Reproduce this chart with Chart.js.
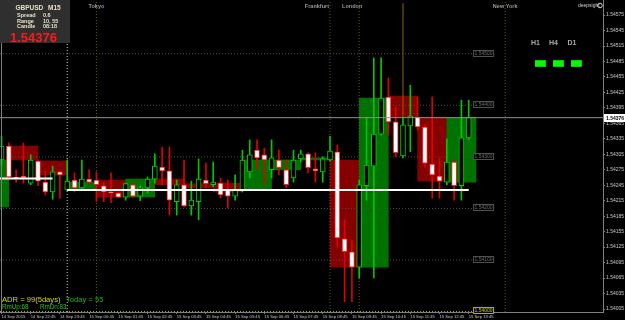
<!DOCTYPE html>
<html>
<head>
<meta charset="utf-8">
<script src="https://cdn.jsdelivr.net/npm/chart.js@4.4.0/dist/chart.umd.min.js"></script>
<style>
  html, body { margin: 0; padding: 0; background: #000; }
  #wrap { width: 625px; height: 320px; }
</style>
</head>
<body>
<div id="wrap"><canvas id="chart" width="625" height="320"></canvas></div>
<script>
// GBPUSD M15 candles, bar 0 = 14 Sep 21:45 (server time)
const opens = [1.54294, 1.54321, 1.54261, 1.54263, 1.54249, 1.54292, 1.54251, 1.54232, 1.54271, 1.54236,
  1.54255, 1.54240, 1.54257, 1.54255, 1.54244, 1.54232, 1.54230, 1.54222, 1.54246, 1.54224,
  1.54240, 1.54257, 1.54280, 1.54273, 1.54213, 1.54246, 1.54205, 1.54213, 1.54255, 1.54246,
  1.54249, 1.54236, 1.54224, 1.54236, 1.54271, 1.54313, 1.54304, 1.54275, 1.54294, 1.54275,
  1.54259, 1.54296, 1.54306, 1.54277, 1.54271, 1.54294, 1.54310, 1.54141, 1.54116, 1.54086,
  1.54244, 1.54282, 1.54344, 1.54416, 1.54368, 1.54302, 1.54360, 1.54377, 1.54358, 1.54286,
  1.54263, 1.54251, 1.54290, 1.54244, 1.54337];
const highs = [1.54340, 1.54327, 1.54275, 1.54327, 1.54304, 1.54294, 1.54271, 1.54282, 1.54273, 1.54294,
  1.54269, 1.54294, 1.54275, 1.54271, 1.54251, 1.54269, 1.54232, 1.54249, 1.54249, 1.54244,
  1.54261, 1.54306, 1.54319, 1.54319, 1.54255, 1.54294, 1.54253, 1.54296, 1.54288, 1.54290,
  1.54259, 1.54255, 1.54265, 1.54313, 1.54333, 1.54333, 1.54317, 1.54333, 1.54313, 1.54294,
  1.54313, 1.54313, 1.54308, 1.54308, 1.54300, 1.54340, 1.54323, 1.54178, 1.54139, 1.54255,
  1.54377, 1.54492, 1.54492, 1.54453, 1.54397, 1.54375, 1.54439, 1.54416, 1.54362, 1.54416,
  1.54298, 1.54335, 1.54294, 1.54410, 1.54410];
const lows = [1.54284, 1.54255, 1.54251, 1.54249, 1.54246, 1.54244, 1.54226, 1.54218, 1.54220, 1.54234,
  1.54232, 1.54238, 1.54249, 1.54213, 1.54213, 1.54211, 1.54220, 1.54216, 1.54222, 1.54215,
  1.54230, 1.54249, 1.54246, 1.54187, 1.54187, 1.54203, 1.54187, 1.54178, 1.54240, 1.54242,
  1.54220, 1.54201, 1.54216, 1.54232, 1.54259, 1.54275, 1.54246, 1.54259, 1.54265, 1.54240,
  1.54251, 1.54290, 1.54269, 1.54251, 1.54251, 1.54292, 1.54125, 1.54019, 1.54019, 1.54065,
  1.54216, 1.54065, 1.54342, 1.54342, 1.54300, 1.54298, 1.54310, 1.54352, 1.54280, 1.54220,
  1.54220, 1.54246, 1.54216, 1.54216, 1.54333];
const closes = [1.54321, 1.54261, 1.54259, 1.54259, 1.54294, 1.54253, 1.54232, 1.54271, 1.54265, 1.54253,
  1.54240, 1.54257, 1.54251, 1.54246, 1.54232, 1.54230, 1.54222, 1.54248, 1.54224, 1.54240,
  1.54257, 1.54282, 1.54273, 1.54216, 1.54246, 1.54205, 1.54216, 1.54257, 1.54248, 1.54251,
  1.54226, 1.54224, 1.54236, 1.54294, 1.54304, 1.54298, 1.54294, 1.54298, 1.54279, 1.54246,
  1.54294, 1.54306, 1.54279, 1.54273, 1.54296, 1.54311, 1.54143, 1.54116, 1.54086, 1.54246,
  1.54284, 1.54344, 1.54414, 1.54368, 1.54308, 1.54362, 1.54379, 1.54358, 1.54288, 1.54265,
  1.54253, 1.54290, 1.54244, 1.54337, 1.54376];

// H1 candle bodies drawn behind (first M15 bar of each hour)
const hourStarts = [-3, 1, 5, 9, 13, 17, 21, 25, 29, 33, 37, 41, 45, 49, 53, 57, 61];
const hourOpens = [1.54203, 1.54321, 1.54292, 1.54236, 1.54255, 1.54222, 1.54257, 1.54248, 1.54249,
  1.54236, 1.54275, 1.54294, 1.54294, 1.54086, 1.54418, 1.54377, 1.54251];
const hourCloses = [1.54294, 1.54294, 1.54265, 1.54251, 1.54222, 1.54257, 1.54246, 1.54240, 1.54232,
  1.54294, 1.54294, 1.54298, 1.54086, 1.54414, 1.54377, 1.54253, 1.54376];

// axes
const timeTickBars = [0, 4, 8, 12, 16, 20, 24, 28, 32, 36, 40, 44, 48, 52, 56, 60, 64];
const timeLabels = ['14 Sep 2015', '14 Sep 22:45', '14 Sep 23:45', '15 Sep 00:45', '15 Sep 01:45',
  '15 Sep 02:45', '15 Sep 03:45', '15 Sep 04:45', '15 Sep 05:45', '15 Sep 06:45', '15 Sep 07:45',
  '15 Sep 08:45', '15 Sep 09:45', '15 Sep 10:45', '15 Sep 11:45', '15 Sep 12:45', '15 Sep 13:45'];
const priceTicks = [1.54005, 1.54035, 1.54065, 1.54095, 1.54125, 1.54155, 1.54185, 1.54215, 1.54245,
  1.54275, 1.54305, 1.54335, 1.54365, 1.54395, 1.54425, 1.54455, 1.54485, 1.54515, 1.54545, 1.54575];

// levels and markers
const roundLevels = [1.54500, 1.54400, 1.54300, 1.54200, 1.54100];
const yellowLevel = 1.54000;
const levelEndBar = 64.6;
const currentPrice = 1.54376;
const dayOpenPrices = [1.54258, 1.54236];
const dayOpenFrom = [-0.21, 9];
const dayOpenTo = [7, 64];
const daySeparatorBar = 9;
const sessionBars = [13, 45, 49, 69];
const sessionNames = ['Tokyo', 'Frankfurt', 'London', 'New York'];
const spikeBar = 55;
const spikeFrom = 1.54375;
const spikeTo = 1.54598;

const xMin = -0.21, xMax = 82.4;
const yMin = 1.539992, yMax = 1.546042;

const barIdx = opens.map((o, i) => i);
const isUp = i => closes[i] >= opens[i];

// turns [x0, y0, x1, y1] pieces into one broken line
function segments(list) {
    const out = [];
    list.forEach(s => {
        out.push({x: s[0], y: s[1]}, {x: s[2], y: s[3]}, {x: s[2], y: null});
    });
    return out;
}

function lineSet(data, color, width, dash, order) {
    return {
        type: 'line', data: data, borderColor: color, borderWidth: width,
        borderDash: dash, pointRadius: 0, spanGaps: false, order: order
    };
}

const TXT = '"Liberation Sans", Arial, sans-serif';

const decor = {
    id: 'decor',
    beforeDraw(chart) {
        const ctx = chart.ctx;
        ctx.save();
        ctx.fillStyle = '#000';
        ctx.fillRect(0, 0, chart.width, chart.height);
        ctx.restore();
    },
    afterDraw(chart) {
        const ctx = chart.ctx;
        const xs = chart.scales.x, ys = chart.scales.y;
        const area = chart.chartArea;
        ctx.save();

        // left frame line
        ctx.strokeStyle = '#808080';
        ctx.lineWidth = 1;
        ctx.beginPath();
        ctx.moveTo(area.left + 1.5, area.top);
        ctx.lineTo(area.left + 1.5, area.bottom);
        ctx.stroke();

        // level price tags
        ctx.font = '5px ' + TXT;
        ctx.textBaseline = 'middle';
        ctx.textAlign = 'center';
        const tagX = xs.getPixelForValue(levelEndBar);
        roundLevels.concat([yellowLevel]).forEach(lv => {
            const py = Math.round(ys.getPixelForValue(lv));
            const yellow = lv === yellowLevel;
            const top = yellow ? py - 5 : py - 4;
            ctx.fillStyle = '#000';
            ctx.fillRect(tagX, top, 20, 7);
            ctx.strokeStyle = yellow ? '#b0b000' : '#505050';
            ctx.strokeRect(tagX + 0.5, top + 0.5, 20, 6);
            ctx.fillStyle = yellow ? '#c8c800' : '#6a6a6a';
            ctx.fillText(lv.toFixed(5), tagX + 10.5, top + 3.7);
        });

        // current price tag on the axis
        const cy = Math.round(ys.getPixelForValue(currentPrice));
        ctx.fillStyle = '#fff';
        ctx.fillRect(area.right + 1, cy - 4, 21, 8);
        ctx.fillStyle = '#000';
        ctx.font = 'bold 5px ' + TXT;
        ctx.textAlign = 'left';
        ctx.fillText(currentPrice.toFixed(5), area.right + 3, cy + 0.5);

        // session names
        ctx.font = 'bold 5.5px ' + TXT;
        ctx.fillStyle = '#9a9a9a';
        ctx.textBaseline = 'alphabetic';
        sessionBars.forEach((b, k) => {
            const px = xs.getPixelForValue(b);
            if (sessionNames[k] === 'Frankfurt') {
                ctx.textAlign = 'right';
                ctx.fillText(sessionNames[k], px - 1, 8);
            } else if (sessionNames[k] === 'London') {
                ctx.textAlign = 'center';
                ctx.fillText(sessionNames[k], px - 7, 8);
            } else {
                ctx.textAlign = 'center';
                ctx.fillText(sessionNames[k], px, 8);
            }
        });

        // info panel
        ctx.textAlign = 'left';
        ctx.fillStyle = '#2f2f2f';
        ctx.fillRect(0, 0, 70, 43);
        ctx.fillStyle = '#e6e0c2';
        ctx.font = 'bold 6.5px ' + TXT;
        ctx.fillText('GBPUSD', 15.5, 10);
        ctx.fillText('M15', 48, 10);
        ctx.font = 'bold 5.5px ' + TXT;
        ctx.fillText('Spread', 17, 17.3);
        ctx.fillText('0.6', 43, 17.3);
        ctx.fillText('Range', 17, 22.5);
        ctx.fillText('10, 55', 43, 22.5);
        ctx.fillText('Candle', 17, 27.5);
        ctx.fillText('08:18', 43, 27.5);
        ctx.fillStyle = '#ff1a1a';
        ctx.font = 'bold 13px ' + TXT;
        ctx.fillText('1.54376', 10, 41.5);

        // multi timeframe signal boxes
        ctx.fillStyle = '#a8a8a8';
        ctx.font = 'bold 7px ' + TXT;
        ctx.fillText('H1', 531, 45);
        ctx.fillText('H4', 549, 45);
        ctx.fillText('D1', 567.5, 45);
        [535, 553, 571].forEach(gx => {
            ctx.fillStyle = '#00a000';
            ctx.fillRect(gx, 60, 11, 7);
            ctx.fillStyle = '#00ff00';
            ctx.fillRect(gx, 60.5, 10.5, 6);
        });

        // watermark
        ctx.fillStyle = '#d0d0d0';
        ctx.font = '5px ' + TXT;
        ctx.fillText('deepsight', 578, 7);
        ctx.strokeStyle = '#d0d0d0';
        ctx.beginPath();
        ctx.arc(600, 5.5, 2.3, 0, Math.PI * 2);
        ctx.stroke();

        // ADR panel
        ctx.font = '7.6px ' + TXT;
        ctx.fillStyle = '#d6d616';
        ctx.fillText('ADR = 99(5days)', 2, 301.5);
        ctx.fillStyle = '#1fb41f';
        ctx.fillText('Today = 55', 66, 301.5);
        ctx.font = '6.3px ' + TXT;
        ctx.fillStyle = '#22c822';
        ctx.fillText('RmUp:68', 2, 308.5);
        ctx.fillText('RmDn:83', 40, 308.5);

        ctx.restore();
    }
};

const datasets = [
    {
        type: 'bar',
        data: hourStarts.map((s, k) => ({x: s + 2, y: [hourOpens[k], hourCloses[k]]})),
        grouped: false,
        barThickness: 29,
        borderWidth: 0,
        backgroundColor: c => hourCloses[c.dataIndex] >= hourOpens[c.dataIndex] ? '#007200' : '#850000',
        order: 20
    },
    lineSet(segments(roundLevels.map(lv => [xMin, lv, levelEndBar, lv])), '#4d4d4d', 1, [1, 2], 15),
    lineSet(segments([[xMin, yellowLevel, levelEndBar, yellowLevel]]), '#b8b800', 1, [1, 2], 15),
    lineSet(segments(sessionBars.map(b => [b, yMin, b, yMax])), '#62620e', 1, [1, 2], 16),
    lineSet(segments([[daySeparatorBar, yMin, daySeparatorBar, yMax]]), '#cfcfcf', 1, [1, 2], 16),
    lineSet(segments([[spikeBar, spikeFrom, spikeBar, spikeTo]]), '#8a6a00', 1, [], 7),
    {
        type: 'bar',
        data: barIdx.map(i => ({x: i, y: [lows[i], highs[i]]})),
        grouped: false,
        barThickness: 1,
        borderWidth: 0,
        backgroundColor: c => isUp(c.dataIndex) ? '#00c800' : '#e00000',
        order: 6
    },
    {
        type: 'bar',
        data: barIdx.map(i => ({x: i, y: [opens[i], closes[i]]})),
        grouped: false,
        barThickness: 5,
        borderWidth: 1,
        borderSkipped: false,
        backgroundColor: c => isUp(c.dataIndex) ? '#000000' : '#ffffff',
        borderColor: c => isUp(c.dataIndex) ? '#00d000' : '#ff2020',
        order: 5
    },
    lineSet(segments(dayOpenPrices.map((p, k) => [dayOpenFrom[k], p, dayOpenTo[k], p])), '#ffffff', 2, [], 3),
    lineSet(segments([[xMin, currentPrice, xMax, currentPrice]]), '#8a938a', 1, [], 2)
];

new Chart(document.getElementById('chart'), {
    type: 'bar',
    data: {datasets: datasets},
    options: {
        responsive: false,
        animation: false,
        devicePixelRatio: 1,
        events: [],
        layout: {padding: 0},
        plugins: {legend: {display: false}, tooltip: {enabled: false}},
        scales: {
            x: {
                type: 'linear',
                position: 'bottom',
                min: xMin,
                max: xMax,
                offset: false,
                grid: {display: true, offset: false, drawOnChartArea: false, color: '#808080', tickLength: 2},
                border: {color: '#808080'},
                afterBuildTicks: s => { s.ticks = timeTickBars.map(v => ({value: v})); },
                afterFit: s => { s.height = 8; s.paddingLeft = 0; s.paddingRight = 0; },
                ticks: {
                    autoSkip: false,
                    maxRotation: 0,
                    minRotation: 0,
                    align: 'start',
                    padding: 0,
                    color: '#c8c8c8',
                    font: {family: TXT, size: 4.2},
                    callback: v => timeLabels[timeTickBars.indexOf(v)]
                }
            },
            y: {
                type: 'linear',
                position: 'right',
                min: yMin,
                max: yMax,
                beginAtZero: false,
                grid: {display: true, drawOnChartArea: false, color: '#808080', tickLength: 2},
                border: {color: '#808080'},
                afterBuildTicks: s => { s.ticks = priceTicks.map(v => ({value: v})); },
                afterFit: s => { s.width = 22; s.paddingTop = 0; s.paddingBottom = 0; },
                ticks: {
                    autoSkip: false,
                    padding: 1,
                    color: '#c8c8c8',
                    font: {family: TXT, size: 5},
                    callback: v => v.toFixed(5)
                }
            }
        }
    },
    plugins: [decor]
});
</script>
</body>
</html>
